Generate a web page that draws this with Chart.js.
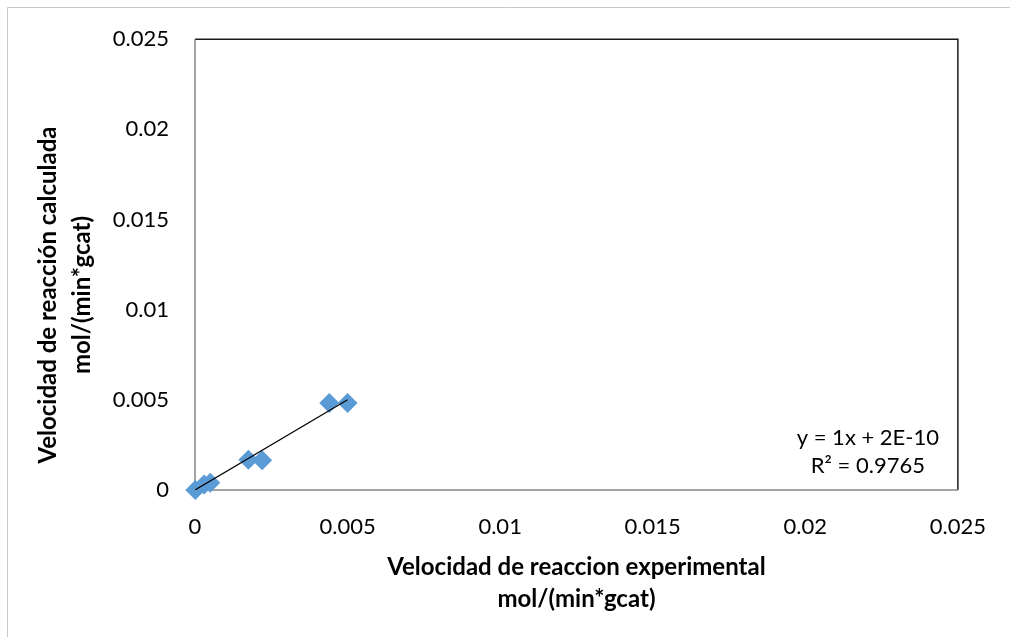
<!DOCTYPE html>
<html>
<head>
<meta charset="utf-8">
<script src="https://cdn.jsdelivr.net/npm/chart.js@4/dist/chart.umd.min.js"></script>
<style>
  html, body { margin: 0; padding: 0; background: #fff; }
  #wrap { width: 1010px; height: 637px; }
</style>
</head>
<body>
<div id="wrap"><canvas id="chartVel" width="1010" height="637"></canvas></div>
<script>
// ===== Datos =====
const velExperimental = [0.00001, 0.0003, 0.0005, 0.00175, 0.0022, 0.0044, 0.0050];
const velCalculada    = [0.00000, 0.0003, 0.0004, 0.00168, 0.00165, 0.00483, 0.00482];
const axisTicks = [0, 0.005, 0.01, 0.015, 0.02, 0.025];
const xTitle = ['Velocidad de reaccion experimental', 'mol/(min*gcat)'];
const yTitle = ['Velocidad de reacción calculada', 'mol/(min*gcat)'];
// Línea de tendencia (y = 1x + 2E-10)
const trendSlope = 1;
const trendIntercept = 2e-10;
const trendLabel = ['y = 1x + 2E-10', 'R\u00B2 = 0.9765'];

const puntos = velExperimental.map((x, i) => ({ x: x, y: velCalculada[i] }));
const xMin = Math.min(...velExperimental);
const xMax = Math.max(...velExperimental);
const trend = [xMin, xMax].map(x => ({ x: x, y: trendSlope * x + trendIntercept }));

const FONT = 'Lato, "Open Sans", sans-serif';

// ===== Marco del gráfico, área de trazado y textos =====
const framePlugin = {
    id: 'frame',
    beforeDraw(chart) {
        const c = chart.ctx;
        c.save();
        c.fillStyle = '#fff';
        c.fillRect(0, 0, chart.width, chart.height);
        c.strokeStyle = '#c8c8c8';
        c.lineWidth = 1;
        c.beginPath();
        c.moveTo(7.5, chart.height);
        c.lineTo(7.5, 7.5);
        c.lineTo(chart.width, 7.5);
        c.stroke();
        c.restore();
    },
    beforeDatasetsDraw(chart) {
        const a = chart.chartArea;
        const c = chart.ctx;
        c.save();
        c.lineWidth = 1.5;
        c.strokeStyle = '#1a1a1a';
        c.beginPath();
        c.moveTo(a.left, a.top);
        c.lineTo(a.right, a.top);
        c.lineTo(a.right, a.bottom);
        c.stroke();
        c.strokeStyle = '#868686';
        c.beginPath();
        c.moveTo(a.left, a.top);
        c.lineTo(a.left, a.bottom);
        c.lineTo(a.right, a.bottom);
        c.stroke();
        c.restore();
    },
    afterDraw(chart) {
        const a = chart.chartArea;
        const c = chart.ctx;
        c.save();
        c.fillStyle = '#000';
        c.textAlign = 'center';
        c.textBaseline = 'middle';
        // etiqueta de la línea de tendencia
        c.font = '22px ' + FONT;
        c.fillText(trendLabel[0], a.right - 90, 438);
        c.fillText(trendLabel[1], a.right - 90, 466);
        // título del eje Y (Excel lo centra algo más abajo)
        c.font = 'bold 24px ' + FONT;
        c.translate(0, 295);
        c.rotate(-Math.PI / 2);
        c.fillText(yTitle[0], 0, 48);
        c.fillText(yTitle[1], 0, 82);
        c.restore();
    }
};

const ctx = document.getElementById('chartVel').getContext('2d');
const velChart = new Chart(ctx, {
    type: 'scatter',
    data: {
        datasets: [
            {   // línea de tendencia
                type: 'line',
                label: 'Lineal',
                data: trend,
                borderColor: '#000',
                borderWidth: 1.2,
                pointRadius: 0,
                fill: false,
                order: 0
            },
            {   // puntos
                label: 'Velocidad',
                data: puntos,
                pointStyle: 'rectRot',
                pointRadius: 10,
                pointHoverRadius: 10,
                backgroundColor: '#5b9bd5',
                borderColor: '#5b9bd5',
                borderWidth: 0,
                clip: false,
                order: 1
            }
        ]
    },
    options: {
        responsive: false,
        animation: false,
        layout: { padding: { left: 10, top: 37, right: 45, bottom: 10 } },
        plugins: {
            legend: { display: false },
            tooltip: { enabled: false }
        },
        scales: {
            x: {
                type: 'linear',
                min: 0, max: 0.025,
                afterBuildTicks: s => { s.ticks = axisTicks.map(v => ({ value: v })); },
                afterFit: s => { s.height = 137; },
                grid: { display: false, drawTicks: false },
                border: { display: false },
                ticks: {
                    padding: 24,
                    color: '#000',
                    font: { family: FONT, size: 22 },
                    callback: v => String(+v.toFixed(3))
                },
                title: {
                    display: true,
                    text: xTitle,
                    color: '#000',
                    font: { family: FONT, size: 24, weight: 'bold', lineHeight: '32px' },
                    padding: { top: 0, bottom: 12 }
                }
            },
            y: {
                type: 'linear',
                min: 0, max: 0.025,
                afterBuildTicks: s => { s.ticks = axisTicks.map(v => ({ value: v })); },
                afterFit: s => { s.width = 185; },
                grid: { display: false, drawTicks: false },
                border: { display: false },
                ticks: {
                    padding: 26,
                    color: '#000',
                    font: { family: FONT, size: 22 },
                    callback: v => String(+v.toFixed(3))
                },
                title: { display: false }
            }
        }
    },
    plugins: [framePlugin]
});
</script>
</body>
</html>
